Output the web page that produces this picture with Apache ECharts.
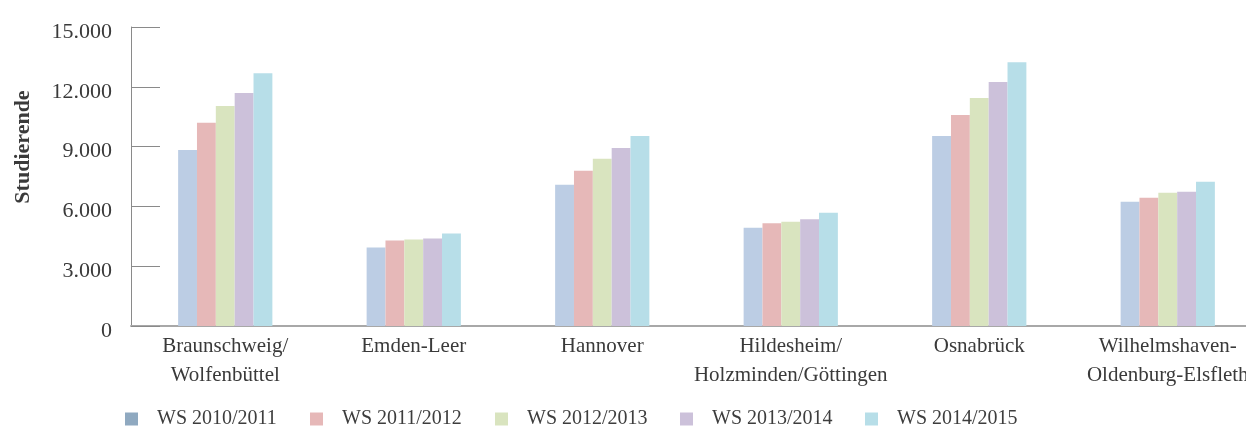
<!DOCTYPE html>
<html>
<head>
<meta charset="utf-8">
<script src="https://cdn.jsdelivr.net/npm/echarts@6/dist/echarts.min.js"></script>
<style>
  html, body { margin: 0; padding: 0; background: #fff; }
  #chart { width: 1246px; height: 427px; }
</style>
</head>
<body>
<div id="chart"></div>
<script>
const categories = [
  "Braunschweig/\nWolfenbüttel",
  "Emden-Leer",
  "Hannover",
  "Hildesheim/\nHolzminden/Göttingen",
  "Osnabrück",
  "Wilhelmshaven-\nOldenburg-Elsfleth",
];
const seriesNames = ["WS 2010/2011", "WS 2011/2012", "WS 2012/2013", "WS 2013/2014", "WS 2014/2015"];
const ws2010 = [8830, 3935, 7085, 4935, 9535, 6235];
const ws2011 = [10200, 4285, 7785, 5150, 10585, 6435];
const ws2012 = [11035, 4335, 8385, 5235, 11435, 6685];
const ws2013 = [11685, 4385, 8935, 5350, 12235, 6735];
const ws2014 = [12685, 4635, 9535, 5685, 13235, 7235];
const yTicks = [0, 3000, 6000, 9000, 12000, 15000];

const barColors = ["#bccde4", "#e6b8b8", "#d9e4bf", "#ccc1da", "#b7dee8"];
const legendColors = ["#8fa9c0", "#e6b8b8", "#d9e4bf", "#ccc1da", "#b7dee8"];
const font = "'Liberation Serif', 'DejaVu Serif', serif";
const values = [ws2010, ws2011, ws2012, ws2013, ws2014];

const chart = echarts.init(document.getElementById("chart"));

const formatNum = (v) => String(v).replace(/\B(?=(\d{3})+(?!\d))/g, ".");

const option = {
  animation: false,
  grid: {
    left: 131,
    width: 1131,
    top: 27,
    bottom: 101,
    outerBoundsMode: "none",
    containLabel: false,
  },
  legend: seriesNames.map((name, i) => ({
    left: 120 + i * 185,
    top: 404,
    icon: "rect",
    itemWidth: 13,
    itemHeight: 13,
    itemGap: 0,
    selectedMode: false,
    textStyle: {
      fontFamily: font,
      fontSize: 20,
      color: "#3d3d3d",
      padding: [0, 0, 0, 14],
    },
    data: [{ name: name, itemStyle: { color: legendColors[i] } }],
  })),
  xAxis: {
    type: "category",
    data: categories,
    axisLine: { lineStyle: { color: "#a8a8a8", width: 2 } },
    axisTick: {
      inside: true,
      length: 7,
      lineStyle: { color: "#777", width: 1 },
    },
    axisLabel: {
      fontFamily: font,
      fontSize: 21,
      color: "#3a3a3a",
      lineHeight: 29,
      margin: 6,
      interval: 0,
    },
  },
  yAxis: {
    type: "value",
    min: 0,
    max: 15000,
    interval: 3000,
    axisLine: { show: true, lineStyle: { color: "#8a8a8a", width: 1 } },
    axisTick: {
      show: true,
      inside: true,
      length: 29,
      lineStyle: { color: "#8a8a8a", width: 1 },
    },
    splitLine: { show: false },
    axisLabel: {
      fontFamily: font,
      fontSize: 22,
      color: "#3a3a3a",
      margin: 19,
      formatter: (v) => (yTicks.includes(v) ? "{n|" + formatNum(v) + "}" : ""),
      rich: {
        n: {
          fontFamily: font,
          fontSize: 22,
          color: "#3a3a3a",
          padding: [10, 0, 0, 0],
        },
      },
    },
  },
  graphic: [
    {
      type: "text",
      x: 12,
      y: 147,
      rotation: Math.PI / 2,
      style: {
        text: "Studierende",
        fontFamily: font,
        fontSize: 22,
        fontWeight: "bold",
        fill: "#3a3a3a",
        align: "center",
        verticalAlign: "top",
      },
    },
  ],
  series: seriesNames.map((name, i) => ({
    name: name,
    type: "bar",
    data: values[i],
    barGap: "0%",
    barCategoryGap: "50%",
    itemStyle: { color: barColors[i] },
  })),
};

chart.setOption(option);
</script>
</body>
</html>
